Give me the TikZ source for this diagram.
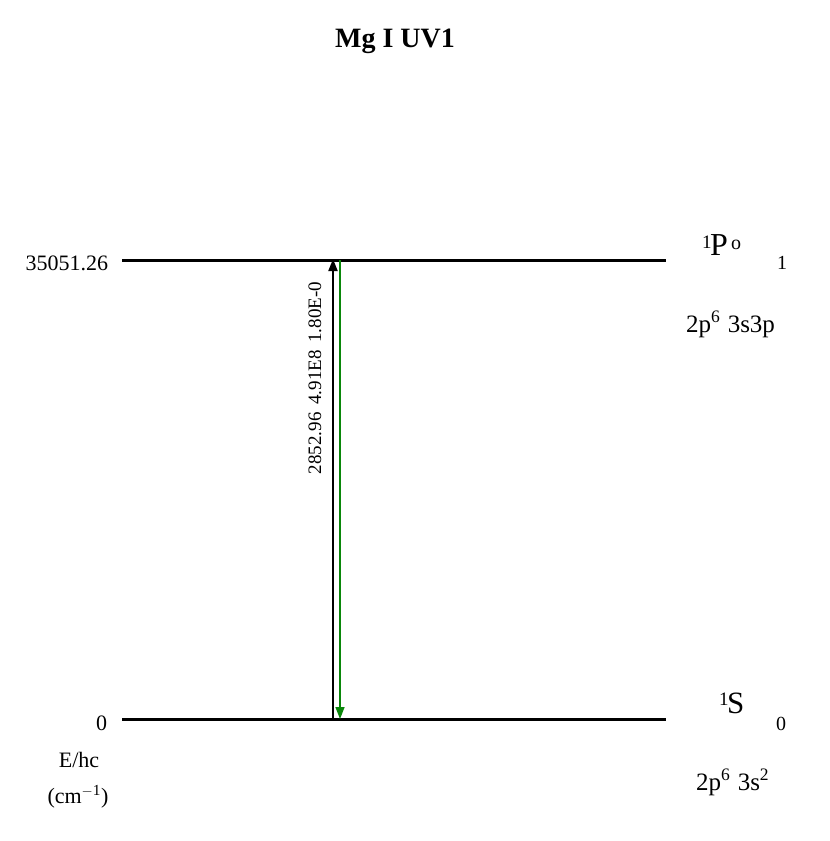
\documentclass[tikz,border=0pt]{standalone}
\usepackage{fontspec}
\setmainfont{Liberation Serif}
\usetikzlibrary{arrows.meta}
\newcommand{\fs}[1]{\fontsize{#1}{#1}\selectfont}
\begin{document}
\begin{tikzpicture}[x=1pt,y=-1pt,
  txt/.style={inner sep=0pt,outer sep=0pt},
  level/.style={line width=3pt},
  uparrow/.style={line width=2pt,-{Triangle[length=12pt,width=9pt]}},
  downarrow/.style={line width=1.6pt,draw=trgreen,-{Triangle[length=12pt,width=9pt]},fill=trgreen}]
\definecolor{trgreen}{RGB}{10,135,10}
\useasboundingbox[fill=white] (0,0) rectangle (830,841);
% title
\node[txt,font=\fs{28}\bfseries] (title) at (395,41) {Mg I UV1};
% levels
\coordinate (uL) at (122,260); \coordinate (uR) at (666,260);
\coordinate (lL) at (122,719); \coordinate (lR) at (666,719);
\draw[level] (uL) -- (uR);
\draw[level] (lL) -- (lR);
% energies
\node[txt,font=\fs{22},anchor=base east] (e1) at (108,270) {35051.26};
\node[txt,font=\fs{22},anchor=base east] (e0) at (107,730) {0};
\node[txt,font=\fs{22},anchor=base] (ehc) at (79,767) {E/hc};
\node[txt,font=\fs{22},anchor=base] (cm) at (78,803) {(cm\textsuperscript{$-$1})};
% transitions
\coordinate (bA) at (333,719); \coordinate (bB) at (333,259);
\coordinate (gA) at (340,260); \coordinate (gB) at (340,719);
\draw[uparrow] (bA) -- (bB);
\draw[downarrow] (gA) -- (gB);
\node[txt,font=\fs{19},rotate=90,anchor=base] (tl) at (321,378) {2852.96\hspace{0.4em}4.91E8\hspace{0.4em}1.80E-0};
% upper term
\node[txt,font=\fs{19},anchor=base west] (u1) at (702,248) {1};
\node[txt,font=\fs{32},anchor=base west] (uP) at (710,255) {P};
\node[txt,font=\fs{20},anchor=base west] (uo) at (731,249) {o};
\node[txt,font=\fs{20},anchor=base west] (uJ) at (777,269) {1};
\node[txt,font=\fs{25},anchor=base west] (uc) at (686,332) {2p\textsuperscript{6}\hspace{0.3em}3s3p};
% lower term
\node[txt,font=\fs{19},anchor=base west] (l1) at (719,705) {1};
\node[txt,font=\fs{31},anchor=base west] (lS) at (727,713) {S};
\node[txt,font=\fs{20},anchor=base west] (lJ) at (776,730) {0};
\node[txt,font=\fs{25},anchor=base west] (lc) at (696,790) {2p\textsuperscript{6}\hspace{0.3em}3s\textsuperscript{2}};
\end{tikzpicture}
\end{document}
